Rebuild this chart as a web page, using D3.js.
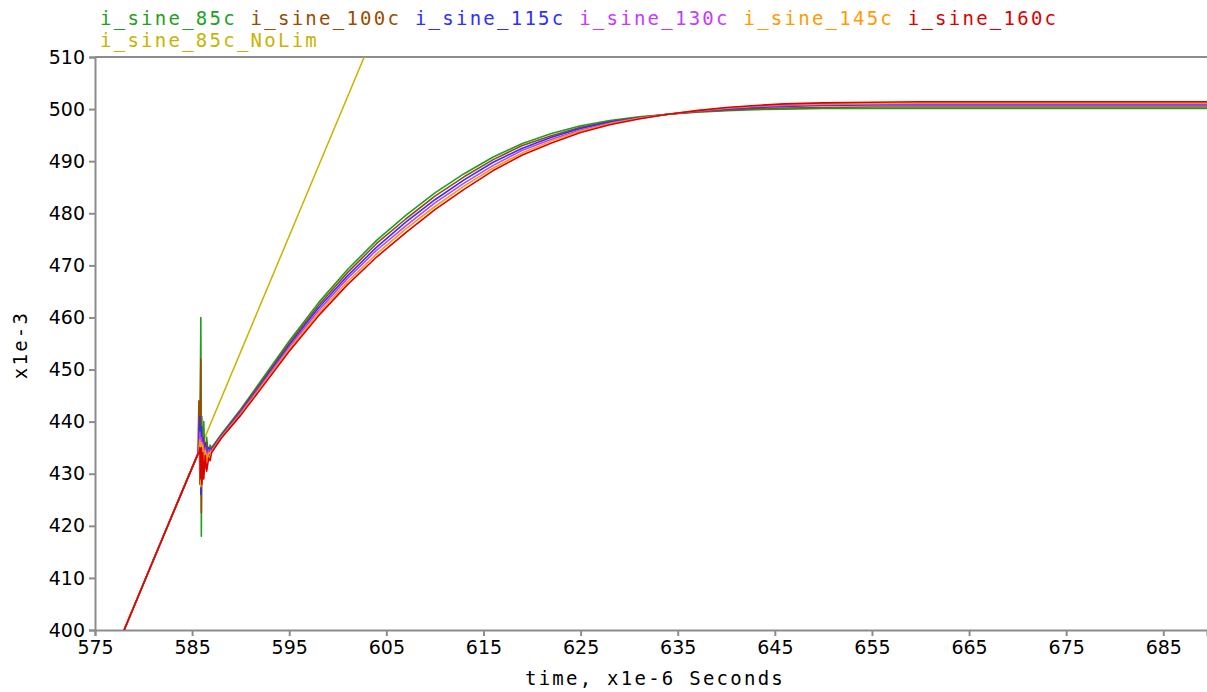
<!DOCTYPE html>
<html>
<head>
<meta charset="utf-8">
<script src="https://cdn.jsdelivr.net/npm/d3@7"></script>
<style>
  html, body { margin: 0; padding: 0; background: #fff; }
  svg { display: block; }
  .tick text { font-family: "DejaVu Sans", sans-serif; font-size: 19px; fill: #000; }
  .mono { font-family: "DejaVu Sans Mono", monospace; font-size: 19px; letter-spacing: 2.25px; }
</style>
</head>
<body>
<script>
// Series names and colours
const seriesNames = ["i_sine_85c", "i_sine_100c", "i_sine_115c", "i_sine_130c", "i_sine_145c", "i_sine_160c"];
const seriesColors = ["#1f9f1f", "#994c00", "#2f2fff", "#c23cff", "#ff9a00", "#dd0000"];
const noLimName = "i_sine_85c_NoLim";
const noLimColor = "#c8b400";

// Shared time base (µs): ramp, switching transient, recovery
const timeUs = [578.0, 581.0, 583.5, 585.6,
  585.7, 585.8, 585.9, 585.95, 586.0, 586.1, 586.2, 586.35, 586.5, 586.7, 586.85,
  587.0, 588, 590, 592, 595, 598, 601, 604, 607, 610, 613, 616, 619, 622, 625, 628,
  631, 634, 637, 640, 643, 646, 650, 655, 660, 670, 680, 690];

// Current (x1e-3 A) for each temperature
const i85c = [400, 413.4, 424.5, 433.8,
  434.5, 437, 460, 418, 441, 429, 440, 431, 437, 433, 435.5,
  435.0, 437.6, 442.4, 447.6, 455.5, 462.8, 469.2, 474.8, 479.6, 483.9, 487.6, 490.8, 493.4, 495.3, 496.8, 497.8,
  498.5, 499.0, 499.4, 499.7, 499.9, 500.0, 500.1, 500.1, 500.1, 500.1, 500.1, 500.1];
const i100c = [400, 413.4, 424.5, 433.8,
  444, 428, 452, 422.5, 439, 430, 437, 432, 436, 433.5, 435,
  434.8, 437.4, 442.2, 447.3, 455.1, 462.3, 468.6, 474.2, 478.9, 483.3, 487.0, 490.3, 493.0, 494.9, 496.5, 497.6,
  498.4, 499.0, 499.5, 499.8, 500.1, 500.2, 500.3, 500.4, 500.4, 500.4, 500.4, 500.4];
const i115c = [400, 413.4, 424.5, 433.8,
  436, 441, 426, 439, 430, 437, 431, 436, 433, 435, 434.5,
  434.6, 437.3, 441.9, 447.0, 454.7, 461.8, 468.0, 473.5, 478.3, 482.6, 486.4, 489.8, 492.5, 494.6, 496.3, 497.5,
  498.3, 499.0, 499.6, 500.0, 500.3, 500.5, 500.7, 500.8, 500.8, 500.8, 500.8, 500.8];
const i130c = [400, 413.4, 424.5, 433.8,
  435, 438, 430, 437, 431, 436, 432, 435, 433, 434.5, 434.5,
  434.4, 437.1, 441.7, 446.7, 454.3, 461.3, 467.5, 472.9, 477.6, 482.0, 485.8, 489.2, 492.1, 494.2, 496.0, 497.3,
  498.3, 499.0, 499.6, 500.1, 500.5, 500.7, 500.9, 501.0, 501.0, 501.0, 501.0, 501.0];
const i145c = [400, 413.4, 424.5, 433.8,
  434, 436.5, 427.5, 436, 430, 435.5, 431, 434.5, 432.5, 434, 434,
  434.2, 437.0, 441.4, 446.4, 453.9, 460.8, 466.9, 472.2, 477.0, 481.3, 485.2, 488.7, 491.6, 493.9, 495.8, 497.2,
  498.2, 499.0, 499.7, 500.2, 500.6, 500.9, 501.0, 501.1, 501.2, 501.2, 501.2, 501.2];
const i160c = [400, 413.4, 424.5, 433.8,
  434, 435, 429, 435, 428, 434, 429, 433.5, 430.5, 433, 432.5,
  434.0, 436.8, 441.2, 446.1, 453.5, 460.3, 466.3, 471.6, 476.3, 480.7, 484.6, 488.2, 491.2, 493.5, 495.5, 497.0,
  498.1, 499.0, 499.7, 500.3, 500.7, 501.0, 501.2, 501.3, 501.4, 501.4, 501.4, 501.4];
const seriesValues = [i85c, i100c, i115c, i130c, i145c, i160c];

// Unlimited case keeps ramping
const noLimTimeUs = [578.0, 606.0];
const noLimValues = [400, 524.6];

// Axis ticks
const xTicks = [575, 585, 595, 605, 615, 625, 635, 645, 655, 665, 675, 685];
const yTicks = [400, 410, 420, 430, 440, 450, 460, 470, 480, 490, 500, 510];

const W = 1207, H = 692;
const plot = { left: 95, right: 1207, top: 57, bottom: 630 };

const svg = d3.select("body").append("svg").attr("width", W).attr("height", H);

const x = d3.scaleLinear().domain([575, 689.5]).range([plot.left, plot.right]);
const y = d3.scaleLinear().domain([400, 510]).range([plot.bottom, plot.top]);

svg.append("defs").append("clipPath").attr("id", "plotClip")
  .append("rect")
  .attr("x", plot.left).attr("y", plot.top)
  .attr("width", plot.right - plot.left).attr("height", plot.bottom - plot.top);

// Frame line along the top
svg.append("line")
  .attr("x1", plot.left).attr("x2", plot.right)
  .attr("y1", plot.top).attr("y2", plot.top)
  .attr("stroke", "#8c8c8c").attr("stroke-width", 2);

const xAxis = svg.append("g")
  .attr("transform", `translate(0,${plot.bottom})`)
  .call(d3.axisBottom(x).tickValues(xTicks).tickFormat(d3.format("d")).tickSize(6).tickPadding(5));
const yAxis = svg.append("g")
  .attr("transform", `translate(${plot.left},0)`)
  .call(d3.axisLeft(y).tickValues(yTicks).tickFormat(d3.format("d")).tickSize(6).tickPadding(4));
[xAxis, yAxis].forEach(g => {
  g.select(".domain").attr("stroke", "#8c8c8c").attr("stroke-width", 2);
  g.selectAll(".tick line").attr("stroke", "#8c8c8c").attr("stroke-width", 2);
});

const lines = svg.append("g").attr("clip-path", "url(#plotClip)");
const lineGen = d3.line()
  .x(d => x(d[0]))
  .y(d => y(d[1]));

lines.append("path")
  .datum(noLimTimeUs.map((t, i) => [t, noLimValues[i]]))
  .attr("d", lineGen)
  .attr("fill", "none")
  .attr("stroke", noLimColor)
  .attr("stroke-width", 1.5);

seriesValues.forEach((vals, k) => {
  lines.append("path")
    .datum(timeUs.map((t, i) => [t, vals[i]]))
    .attr("d", lineGen)
    .attr("fill", "none")
    .attr("stroke", seriesColors[k])
    .attr("stroke-width", 1.6)
    .attr("stroke-linejoin", "round");
});

// Legend
const legend = svg.append("text").attr("class", "mono").attr("x", 100).attr("y", 25);
seriesNames.forEach((name, k) => {
  legend.append("tspan")
    .attr("fill", seriesColors[k])
    .text(k < seriesNames.length - 1 ? name + " " : name);
});
svg.append("text").attr("class", "mono")
  .attr("x", 100).attr("y", 47)
  .attr("fill", noLimColor)
  .text(noLimName);

// Axis titles
svg.append("text").attr("class", "mono")
  .attr("x", 655).attr("y", 685)
  .attr("text-anchor", "middle")
  .attr("fill", "#000")
  .text("time, x1e-6 Seconds");
svg.append("text").attr("class", "mono")
  .attr("transform", "translate(27,345) rotate(-90)")
  .attr("text-anchor", "middle")
  .attr("fill", "#000")
  .text("x1e-3");
</script>
</body>
</html>
